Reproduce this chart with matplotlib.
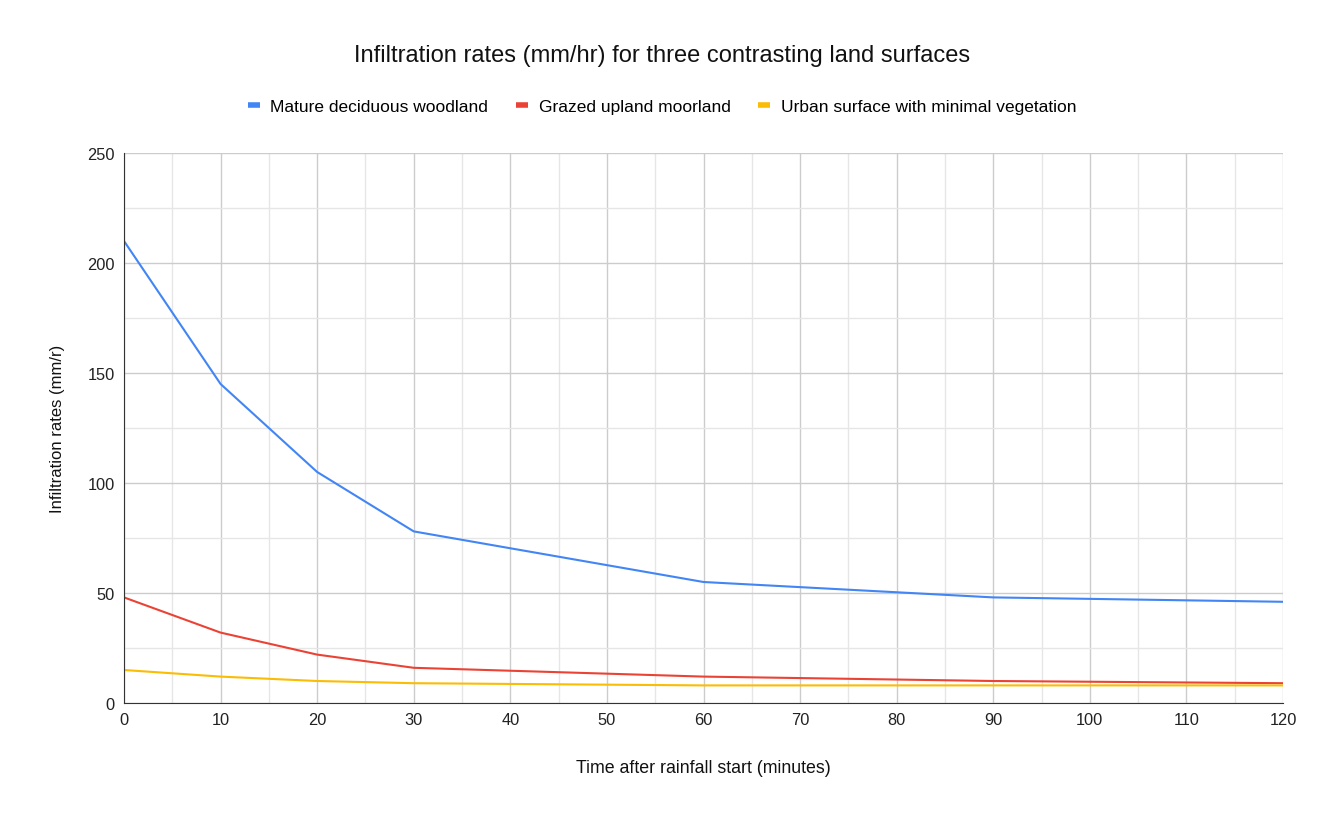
import matplotlib
matplotlib.use("Agg")
import matplotlib.pyplot as plt
from matplotlib.ticker import MultipleLocator
from matplotlib.lines import Line2D

plt.rcParams['font.family'] = ['Liberation Sans', 'DejaVu Sans']

time_min = [0, 10, 20, 30, 60, 90, 120]
woodland = [210, 145, 105, 78, 55, 48, 46]
moorland = [48, 32, 22, 16, 12, 10, 9]
urban = [15, 12, 10, 9, 8, 8, 8]

series_names = ["Mature deciduous woodland", "Grazed upland moorland",
                "Urban surface with minimal vegetation"]
colors = ["#4285F4", "#EA4335", "#FBBC04"]

fig = plt.figure(figsize=(13.24, 8.2), dpi=100)
ax = fig.add_axes([124/1324, 1 - 704/820, (1283-124)/1324, (704-154)/820])

for vals, c, name in zip([woodland, moorland, urban], colors, series_names):
    ax.plot(time_min, vals, color=c, lw=1.5, label=name, solid_joinstyle='round')

ax.set_xlim(0, 120)
ax.set_ylim(0, 250)
ax.xaxis.set_major_locator(MultipleLocator(10))
ax.xaxis.set_minor_locator(MultipleLocator(5))
ax.yaxis.set_major_locator(MultipleLocator(50))
ax.yaxis.set_minor_locator(MultipleLocator(25))
ax.grid(which='major', color='#cccccc', lw=1)
ax.grid(which='minor', color='#e6e6e6', lw=1)
ax.set_axisbelow(True)
for s in ['top', 'right']:
    ax.spines[s].set_visible(False)
ax.spines['left'].set_color('#333333')
ax.spines['bottom'].set_color('#333333')
ax.tick_params(which='both', length=0, labelsize=11.8, colors='#222222', pad=6.5)

ax.set_xlabel("Time after rainfall start (minutes)", fontsize=12.8, color='#111111', labelpad=23)
ax.set_ylabel("Infiltration rates (mm/r)", fontsize=12, color='#111111', labelpad=16)

fig.text(662/1324, 1 - 56/820, "Infiltration rates (mm/hr) for three contrasting land surfaces",
         ha='center', va='center', fontsize=17, color='#111111')

handles = [Line2D([0], [0], color=c, lw=4, solid_capstyle='butt') for c in colors]
fig.legend(handles, series_names, loc='center', bbox_to_anchor=(662/1324, 1 - 107/820),
           ncol=3, frameon=False, fontsize=12.5, handlelength=0.7, handletextpad=0.6,
           columnspacing=1.6)

fig.savefig("out.png", dpi=100, facecolor='white')
